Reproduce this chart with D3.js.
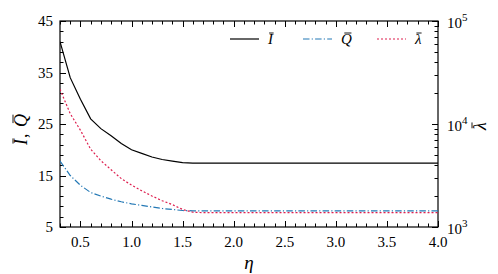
<!DOCTYPE html>
<html>
<head>
<meta charset="utf-8">
<script src="https://cdn.jsdelivr.net/npm/d3@7"></script>
</head>
<body style="margin:0; background:#fff">
<svg id="chart" width="498" height="274"></svg>
<script>
// values
const eta     = [0.3, 0.4, 0.5, 0.6, 0.7, 0.8, 0.9, 1.0, 1.1, 1.2, 1.3, 1.4, 1.5, 1.6, 1.7, 2.0, 2.5, 3.0, 3.5, 4.0];
const iBar    = [41.0, 34.0, 29.8, 26.0, 24.1, 22.7, 21.2, 20.0, 19.3, 18.6, 18.1, 17.8, 17.5, 17.4, 17.4, 17.4, 17.4, 17.4, 17.4, 17.4];
const qBar    = [17.8, 15.0, 13.1, 11.7, 11.0, 10.4, 9.9, 9.5, 9.2, 8.9, 8.6, 8.4, 8.2, 8.15, 8.15, 8.15, 8.15, 8.15, 8.15, 8.15];
const lamBar  = [21700, 12600, 8700, 5700, 4400, 3600, 2950, 2550, 2250, 2000, 1800, 1650, 1480, 1390, 1380, 1380, 1380, 1380, 1380, 1380];
const xTicks  = [0.5, 1.0, 1.5, 2.0, 2.5, 3.0, 3.5, 4.0];
const yTicks  = [5, 15, 25, 35, 45];
const lamTicks = [3, 4, 5];

const FONT = "Liberation Serif";
const svg = d3.select("#chart");
const margin = {left: 60, right: 60, top: 21, bottom: 47};
const W = 498, H = 274;
const x0 = margin.left, x1 = W - margin.right;
const y0 = margin.top, y1 = H - margin.bottom;

const x = d3.scaleLinear().domain([0.3, 4.0]).range([x0, x1]);
const y = d3.scaleLinear().domain([5, 45]).range([y1, y0]);
const yR = d3.scaleLog().domain([1e3, 1e5]).range([y1, y0]);

const BLUE = "#2378b5", RED = "#de1f4f";
const majorLen = 6, minorLen = 3.5;

const ax = svg.append("g").attr("stroke", "#000").attr("stroke-width", 1);

// x ticks (bottom and top), minor every 0.1
d3.range(3, 41).map(d => d / 10).forEach(v => {
  const major = xTicks.some(t => Math.abs(t - v) < 1e-9);
  const len = major ? majorLen : minorLen;
  const px = Math.round(x(v)) + 0.5;
  ax.append("line").attr("x1", px).attr("x2", px).attr("y1", y1).attr("y2", y1 - len);
  ax.append("line").attr("x1", px).attr("x2", px).attr("y1", y0).attr("y2", y0 + len);
});

// left ticks, minor every 2
d3.range(5, 46, 2).forEach(v => {
  const major = (v - 5) % 10 === 0;
  const len = major ? majorLen : minorLen;
  const py = Math.round(y(v)) + 0.5;
  ax.append("line").attr("x1", x0).attr("x2", x0 + len).attr("y1", py).attr("y2", py);
});

// right log ticks
[1e3, 1e4].forEach(dec => {
  for (let k = 1; k <= 9; k++) {
    const len = k === 1 ? majorLen : minorLen;
    const py = Math.round(yR(dec * k)) + 0.5;
    ax.append("line").attr("x1", x1).attr("x2", x1 - len).attr("y1", py).attr("y2", py);
  }
});
ax.append("line").attr("x1", x1).attr("x2", x1 - majorLen)
  .attr("y1", Math.round(yR(1e5)) + 0.5).attr("y2", Math.round(yR(1e5)) + 0.5);

// frame
svg.append("rect").attr("x", x0).attr("y", y0).attr("width", x1 - x0).attr("height", y1 - y0)
  .attr("fill", "none").attr("stroke", "#000").attr("stroke-width", 1.2);

// tick labels
svg.selectAll(".xl").data(xTicks).enter().append("text")
  .attr("font-family", FONT)
  .attr("x", d => x(d)).attr("y", y1 + 20).attr("text-anchor", "middle")
  .attr("font-size", 15).text(d => d.toFixed(1));

svg.selectAll(".yl").data(yTicks).enter().append("text")
  .attr("font-family", FONT)
  .attr("x", x0 - 7).attr("y", d => y(d) + 5).attr("text-anchor", "end")
  .attr("font-size", 15).text(d => d);

lamTicks.forEach(p => {
  const t = svg.append("text").attr("font-family", FONT)
    .attr("x", x1 + 9).attr("y", yR(Math.pow(10, p)) + 7).attr("font-size", 15);
  t.append("tspan").text("10");
  t.append("tspan").attr("dy", -7).attr("font-size", 11).text(p);
});

// italic letter with a bar drawn over it
function barred(g, str, fs) {
  const t = g.append("text").attr("font-family", FONT).attr("font-size", fs)
    .attr("font-style", "italic").text(str);
  const b = t.node().getBBox();
  g.append("line")
    .attr("x1", b.x + b.width * 0.3).attr("x2", b.x + b.width * 0.95)
    .attr("y1", b.y + 2).attr("y2", b.y + 2)
    .attr("stroke", "#000").attr("stroke-width", 0.9);
  return b;
}

// axis titles
svg.append("text").attr("font-family", FONT)
  .attr("x", (x0 + x1) / 2).attr("y", H - 5).attr("text-anchor", "middle")
  .attr("font-size", 19).attr("font-style", "italic").text("\u03b7");

const yLab = svg.append("g").attr("transform", `translate(27,${(y0 + y1) / 2 + 2}) rotate(-90)`);
barred(yLab.append("g").attr("transform", "translate(-19,0)"), "I", 18);
yLab.append("text").attr("font-family", FONT).attr("x", -12).attr("font-size", 18).text(",");
barred(yLab.append("g").attr("transform", "translate(-1,0)"), "Q", 18);

const rLab = svg.append("g").attr("transform", `translate(486,${yR(1e4) + 6}) rotate(-90)`);
barred(rLab, "\u03bb", 18);

// curves
svg.append("clipPath").attr("id", "clip").append("rect")
  .attr("x", x0).attr("y", y0).attr("width", x1 - x0).attr("height", y1 - y0);
const plot = svg.append("g").attr("clip-path", "url(#clip)");

const lineI = d3.line().x((d, i) => x(eta[i])).y(d => y(d));
const lineL = d3.line().x((d, i) => x(eta[i])).y(d => yR(d));

plot.append("path").datum(iBar).attr("d", lineI)
  .attr("fill", "none").attr("stroke", "#000").attr("stroke-width", 1.2);
plot.append("path").datum(qBar).attr("d", lineI)
  .attr("fill", "none").attr("stroke", BLUE).attr("stroke-width", 1.2)
  .attr("stroke-dasharray", "6.5,2.2,1.2,2.2");
plot.append("path").datum(lamBar).attr("d", lineL)
  .attr("fill", "none").attr("stroke", RED).attr("stroke-width", 1.2)
  .attr("stroke-dasharray", "2,2");

// legend
const legend = [
  {label: "I", color: "#000", dash: null, x: 230},
  {label: "Q", color: BLUE, dash: "6.5,2.2,1.2,2.2", x: 303},
  {label: "\u03bb", color: RED, dash: "2,2", x: 377}
];
const ly = 39;
legend.forEach(l => {
  svg.append("line").attr("x1", l.x).attr("x2", l.x + 29).attr("y1", ly).attr("y2", ly)
    .attr("stroke", l.color).attr("stroke-width", 1.2).attr("stroke-dasharray", l.dash);
  const g = svg.append("g").attr("transform", `translate(${l.x + 38},${ly + 5})`);
  barred(g, l.label, 15);
});
</script>
</body>
</html>
